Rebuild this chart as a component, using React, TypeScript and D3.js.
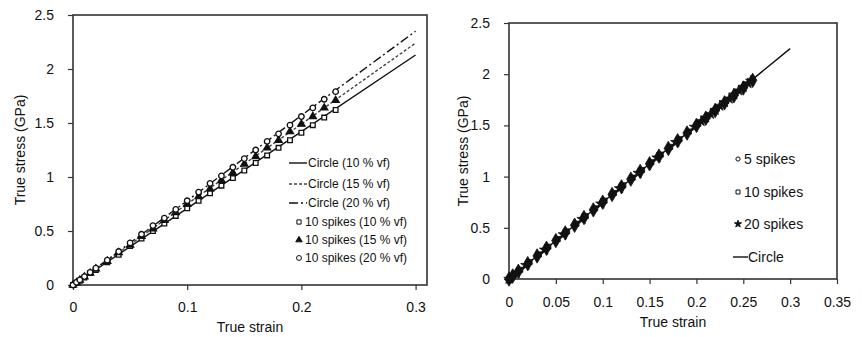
import React, { useRef, useEffect } from "react";
import * as d3 from "d3";

// ---- left chart data (10 spikes vs circle, volume fractions) ----
const leftXTicks = [0, 0.1, 0.2, 0.3];
const leftYTicks = [0, 0.5, 1, 1.5, 2, 2.5];

const circleStrain = [0, 0.1, 0.2, 0.3];
const circle10Stress = [0, 0.71, 1.42, 2.13];
const circle15Stress = [0, 0.75, 1.49, 2.24];
const circle20Stress = [0, 0.78, 1.57, 2.35];

const spikeStrain = [
  0, 0.003, 0.006, 0.01, 0.015, 0.02, 0.03, 0.04, 0.05, 0.06, 0.07, 0.08, 0.09, 0.1,
  0.11, 0.12, 0.13, 0.14, 0.15, 0.16, 0.17, 0.18, 0.19, 0.2, 0.21, 0.22, 0.23,
];
const spikes10Stress = [
  0, 0.02, 0.04, 0.07, 0.11, 0.14, 0.21, 0.28, 0.36, 0.43, 0.5, 0.57, 0.64, 0.71,
  0.78, 0.85, 0.92, 0.99, 1.06, 1.13, 1.2, 1.27, 1.34, 1.41, 1.48, 1.55, 1.62,
];
const spikes15Stress = [
  0, 0.02, 0.045, 0.075, 0.11, 0.15, 0.22, 0.3, 0.37, 0.45, 0.52, 0.6, 0.67, 0.75,
  0.82, 0.89, 0.97, 1.04, 1.12, 1.19, 1.27, 1.34, 1.42, 1.49, 1.56, 1.64, 1.71,
];
const spikes20Stress = [
  0, 0.025, 0.047, 0.078, 0.117, 0.156, 0.23, 0.31, 0.39, 0.47, 0.55, 0.62, 0.7, 0.78,
  0.86, 0.94, 1.01, 1.09, 1.17, 1.25, 1.33, 1.4, 1.48, 1.56, 1.64, 1.72, 1.79,
];

// ---- right chart data (number of spikes) ----
const rightXTicks = [0, 0.05, 0.1, 0.15, 0.2, 0.25, 0.3, 0.35];
const rightYTicks = [0, 0.5, 1, 1.5, 2, 2.5];

const rCircleStrain = [0, 0.1, 0.2, 0.3];
const rCircleStress = [0, 0.75, 1.5, 2.25];

const r5Strain = [
  0, 0.004, 0.01, 0.02, 0.03, 0.04, 0.05, 0.06, 0.07, 0.08, 0.09, 0.1, 0.11, 0.12, 0.13,
  0.14, 0.15, 0.16, 0.17, 0.18, 0.19, 0.2, 0.21, 0.22, 0.23, 0.24, 0.25, 0.26,
];
const r5Stress = [
  0, 0.03, 0.075, 0.15, 0.225, 0.3, 0.375, 0.45, 0.525, 0.6, 0.675, 0.75, 0.825, 0.9,
  0.975, 1.05, 1.125, 1.2, 1.275, 1.35, 1.425, 1.5, 1.57, 1.645, 1.72, 1.79, 1.865, 1.94,
];
const r10Strain = [
  0, 0.005, 0.012, 0.022, 0.032, 0.042, 0.052, 0.062, 0.072, 0.082, 0.092, 0.102, 0.112,
  0.122, 0.132, 0.142, 0.152, 0.162, 0.172, 0.182, 0.192, 0.202, 0.212, 0.222, 0.232,
  0.242, 0.252,
];
const r10Stress = [
  0, 0.037, 0.09, 0.165, 0.24, 0.315, 0.39, 0.465, 0.54, 0.615, 0.69, 0.765, 0.84, 0.915,
  0.99, 1.065, 1.14, 1.215, 1.29, 1.365, 1.44, 1.515, 1.59, 1.665, 1.74, 1.815, 1.89,
];
const r20Strain = [
  0, 0.008, 0.018, 0.038, 0.058, 0.078, 0.098, 0.118, 0.138, 0.158, 0.178, 0.198, 0.205,
  0.21, 0.215, 0.22, 0.225, 0.23, 0.235, 0.24, 0.245, 0.25, 0.255, 0.258,
];
const r20Stress = [
  0, 0.06, 0.135, 0.285, 0.435, 0.585, 0.735, 0.885, 1.035, 1.185, 1.335, 1.485, 1.54,
  1.575, 1.61, 1.65, 1.69, 1.725, 1.76, 1.8, 1.84, 1.875, 1.91, 1.935,
];

const FONT = "'Liberation Sans', Arial, sans-serif";
const INK = "#111";

type Pt = [number, number];
const zip = (xs: number[], ys: number[]): Pt[] => xs.map((v, i) => [v, ys[i]]);

const App = () => {
  const svgRef = useRef<SVGSVGElement>(null);

  useEffect(() => {
    const svg = d3.select(svgRef.current);
    svg.selectAll("*").remove();
    svg.append("rect").attr("width", 862).attr("height", 337).attr("fill", "#fff");

    // shared axis drawing
    const drawAxes = (
      x: d3.ScaleLinear<number, number>,
      y: d3.ScaleLinear<number, number>,
      xt: number[],
      yt: number[],
      xPad: number,
      yPad: number,
      xTitleY: number,
      yTitleX: number
    ) => {
      const [x0, x1] = x.range();
      const [y0, y1] = y.range();
      const g = svg.append("g");
      const xa = g
        .append("g")
        .attr("transform", `translate(0,${y0})`)
        .call(d3.axisBottom(x).tickValues(xt).tickSize(5).tickPadding(xPad).tickFormat((d) => String(d)));
      const ya = g
        .append("g")
        .attr("transform", `translate(${x0},0)`)
        .call(d3.axisLeft(y).tickValues(yt).tickSize(5).tickPadding(yPad).tickFormat((d) => String(d)));
      [xa, ya].forEach((a) => {
        a.select(".domain").remove();
        a.selectAll("line").attr("stroke", "#333").attr("stroke-width", 1.2);
        a.selectAll("text").attr("font-family", FONT).attr("font-size", 14).attr("fill", INK);
      });
      // frame
      g.append("rect")
        .attr("x", x0)
        .attr("y", y1)
        .attr("width", x1 - x0)
        .attr("height", y0 - y1)
        .attr("fill", "none")
        .attr("stroke", "#333")
        .attr("stroke-width", 1.6);
      g.append("text")
        .attr("x", (x0 + x1) / 2)
        .attr("y", xTitleY)
        .attr("text-anchor", "middle")
        .attr("font-family", FONT)
        .attr("font-size", 14)
        .attr("fill", INK)
        .text("True strain");
      g.append("text")
        .attr("transform", `translate(${yTitleX},${(y0 + y1) / 2}) rotate(-90)`)
        .attr("text-anchor", "middle")
        .attr("dy", "0.35em")
        .attr("font-family", FONT)
        .attr("font-size", 14)
        .attr("fill", INK)
        .text("True stress (GPa)");
    };

    // ================= LEFT =================
    const xL = d3.scaleLinear().domain([0, 0.31]).range([73, 427]);
    const yL = d3.scaleLinear().domain([0, 2.5]).range([285, 15]);
    drawAxes(xL, yL, leftXTicks, leftYTicks, 12, 14, 332, 20);

    const lineL = d3
      .line<Pt>()
      .x((d) => xL(d[0]))
      .y((d) => yL(d[1]));

    const circleSeries = [
      { data: zip(circleStrain, circle10Stress), dash: null, color: INK, label: "Circle (10 % vf)" },
      { data: zip(circleStrain, circle15Stress), dash: "3,2", color: "#444", label: "Circle (15 % vf)" },
      { data: zip(circleStrain, circle20Stress), dash: "9,3,2,3", color: INK, label: "Circle (20 % vf)" },
    ];
    circleSeries.forEach((s) => {
      svg
        .append("path")
        .attr("d", lineL(s.data))
        .attr("fill", "none")
        .attr("stroke", s.color)
        .attr("stroke-width", 1.4)
        .attr("stroke-dasharray", s.dash);
    });

    const spikeSeries = [
      { ys: spikes10Stress, sym: d3.symbolSquare, size: 22, fill: "#fff", label: "10 spikes (10 % vf)" },
      { ys: spikes15Stress, sym: d3.symbolTriangle, size: 22, fill: INK, label: "10 spikes (15 % vf)" },
      { ys: spikes20Stress, sym: d3.symbolCircle, size: 24, fill: "#fff", label: "10 spikes (20 % vf)" },
    ];
    spikeSeries.forEach((s) => {
      svg
        .append("g")
        .selectAll("path")
        .data(zip(spikeStrain, s.ys))
        .join("path")
        .attr("transform", (d) => `translate(${xL(d[0])},${yL(d[1])})`)
        .attr("d", d3.symbol().type(s.sym).size(s.size)())
        .attr("fill", s.fill)
        .attr("stroke", INK)
        .attr("stroke-width", 1.3);
    });

    // left legend
    const legL = svg.append("g").attr("font-family", FONT).attr("font-size", 12).attr("fill", INK);
    const legRows = [163, 184, 203, 222, 240, 258];
    circleSeries.forEach((s, i) => {
      legL
        .append("line")
        .attr("x1", 289)
        .attr("x2", 307)
        .attr("y1", legRows[i])
        .attr("y2", legRows[i])
        .attr("stroke", s.color)
        .attr("stroke-width", 1.4)
        .attr("stroke-dasharray", s.dash);
      legL.append("text").attr("x", 308).attr("y", legRows[i]).attr("dy", "0.35em").text(s.label);
    });
    spikeSeries.forEach((s, i) => {
      const yy = legRows[i + 3];
      legL
        .append("path")
        .attr("transform", `translate(299,${yy})`)
        .attr("d", d3.symbol().type(s.sym).size(s.size * 0.8)())
        .attr("fill", s.fill)
        .attr("stroke", INK)
        .attr("stroke-width", 1);
      legL.append("text").attr("x", 305).attr("y", yy).attr("dy", "0.35em").text(s.label);
    });

    // ================= RIGHT =================
    const xR = d3.scaleLinear().domain([0, 0.35]).range([509, 837]);
    const yR = d3.scaleLinear().domain([0, 2.5]).range([279, 23]);
    drawAxes(xR, yR, rightXTicks, rightYTicks, 13, 14, 327, 463);

    const lineR = d3
      .line<Pt>()
      .x((d) => xR(d[0]))
      .y((d) => yR(d[1]));

    svg
      .append("path")
      .attr("d", lineR(zip(rCircleStrain, rCircleStress)))
      .attr("fill", "none")
      .attr("stroke", INK)
      .attr("stroke-width", 1.4);

    const rightSeries = [
      { xs: r5Strain, ys: r5Stress, sym: d3.symbolDiamond, size: 60, fill: INK, label: "5 spikes" },
      { xs: r10Strain, ys: r10Stress, sym: d3.symbolSquare, size: 26, fill: INK, label: "10 spikes" },
      { xs: r20Strain, ys: r20Stress, sym: d3.symbolStar, size: 34, fill: INK, label: "20 spikes" },
    ];
    rightSeries.forEach((s) => {
      svg
        .append("g")
        .selectAll("path")
        .data(zip(s.xs, s.ys))
        .join("path")
        .attr("transform", (d) => `translate(${xR(d[0])},${yR(d[1])})`)
        .attr("d", d3.symbol().type(s.sym).size(s.size)())
        .attr("fill", s.fill)
        .attr("stroke", INK)
        .attr("stroke-width", 0.8);
    });

    // right legend
    const legR = svg.append("g").attr("font-family", FONT).attr("font-size", 14).attr("fill", INK);
    const legRowsR = [159, 192, 224];
    const legSyms = [
      { sym: d3.symbolCircle, size: 14, fill: "#fff" },
      { sym: d3.symbolSquare, size: 16, fill: "#fff" },
      { sym: d3.symbolStar, size: 16, fill: INK },
    ];
    rightSeries.forEach((s, i) => {
      legR
        .append("path")
        .attr("transform", `translate(738,${legRowsR[i]})`)
        .attr("d", d3.symbol().type(legSyms[i].sym).size(legSyms[i].size)())
        .attr("fill", legSyms[i].fill)
        .attr("stroke", INK)
        .attr("stroke-width", 1);
      legR.append("text").attr("x", 744).attr("y", legRowsR[i]).attr("dy", "0.35em").text(s.label);
    });
    legR
      .append("line")
      .attr("x1", 733)
      .attr("x2", 748)
      .attr("y1", 257)
      .attr("y2", 257)
      .attr("stroke", INK)
      .attr("stroke-width", 1.4);
    legR.append("text").attr("x", 748).attr("y", 257).attr("dy", "0.35em").text("Circle");
  }, []);

  return (
    <svg
      ref={svgRef}
      width={862}
      height={337}
      style={{ position: "absolute", left: 0, top: 0, display: "block" }}
    ></svg>
  );
};

export default App;
